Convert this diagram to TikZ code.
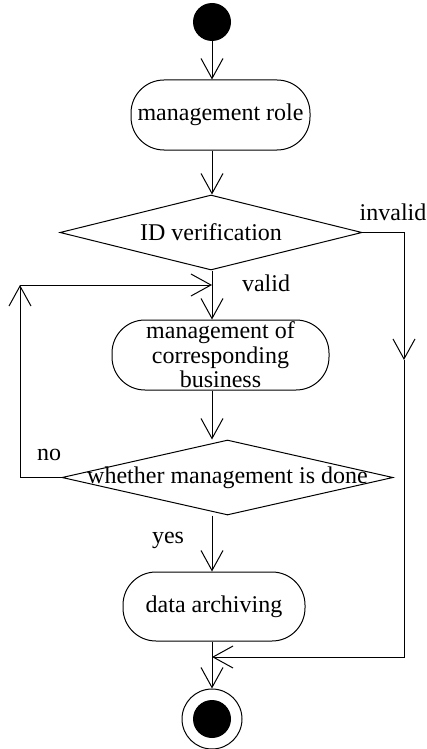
\documentclass[tikz,border=0pt]{standalone}
\usepackage{fontspec}
\setmainfont{Liberation Serif}
\usetikzlibrary{arrows.meta,shapes.geometric}
\begin{document}
\begin{tikzpicture}[x=1pt,y=-1pt, line width=1pt,
  every node/.style={font=\fontsize{24}{25.5}\selectfont, inner sep=0pt},
  box/.style={draw, rectangle, rounded corners=33pt, align=center},
  dec/.style={draw, diamond, inner sep=0pt},
  arr/.style={-{Straight Barb[length=20pt,width=22pt]}}]
\useasboundingbox (0,0) rectangle (427,749);
\node[circle, fill=black, minimum size=38pt] (start) at (212,22) {};
\node[box, minimum width=179pt, minimum height=70pt] (b1) at (220.5,115) {management role};
\node[dec, minimum width=302pt, minimum height=75pt] (d1) at (211,232.5) {};
\node (t1) at (d1) {ID verification};
\node[box, minimum width=217pt, minimum height=70pt, font=\fontsize{24}{24.5}\selectfont] (b2) at (220.5,355) {management of\\corresponding\\business};
\node[dec, minimum width=331pt, minimum height=75pt] (d2) at (227.5,477.5) {};
\node (t2) at (d2) {whether management is done};
\node[box, minimum width=182pt, minimum height=69pt] (b3) at (214,606.5) {data archiving};
\node[circle, draw, minimum size=60pt] (end) at (212,719) {};
\node[circle, fill=black, minimum size=38pt] (endin) at (end) {};
\node (invalid) at (393,212) {invalid};
\node (valid) at (266,283) {valid};
\node (no) at (49,455) {no};
\node (yes) at (168,540) {yes};
\coordinate (ma) at (404,360);
\coordinate (mg) at (212,657);
\coordinate (lc) at (20,285);
\draw[arr] (start) -- (start |- b1.north);
\draw[arr] (start |- b1.south) -- (start |- d1.north);
\draw[arr] (start |- d1.south) -- (start |- b2.north);
\draw[arr] (start |- b2.south) -- (start |- d2.north);
\draw[arr] (start |- d2.south) -- (start |- b3.north);
\draw[arr] (start |- b3.south) -- (end);
\draw[arr] (d1.east) -| (ma);
\draw[arr] (ma) |- (mg);
\draw[arr] (d2.west) -| (lc);
\draw[arr] (lc) -- (start |- lc);
\end{tikzpicture}
\end{document}
